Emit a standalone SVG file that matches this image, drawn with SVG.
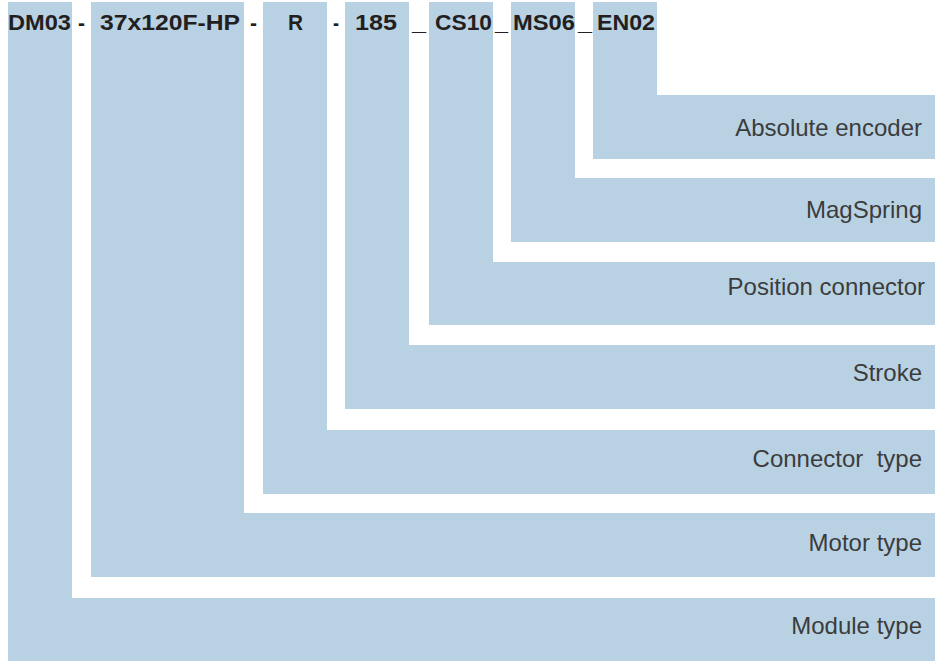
<svg xmlns="http://www.w3.org/2000/svg" width="935" height="661" viewBox="0 0 935 661">
  <style>
    .blk { fill: #b8d2e4; }
    .code { font-family: "Liberation Sans", Arial, sans-serif; font-weight: bold; font-size: 22px; fill: #231f20; }
    .lbl { font-family: "Liberation Sans", Arial, sans-serif; font-size: 24px; fill: #3c3c3c; text-anchor: end; white-space: pre; }
  </style>
  <rect width="935" height="661" fill="#ffffff"/>
  <g id="module-type">
    <path class="blk" d="M8,2 H72 V598 H935 V661 H8 Z"/>
    <text class="code" x="8" y="30" textLength="63" lengthAdjust="spacingAndGlyphs">DM03</text>
    <text class="lbl" x="922" y="634">Module type</text>
  </g>
  <g id="motor-type">
    <path class="blk" d="M91,2 H244 V513 H935 V577 H91 Z"/>
    <text class="code" x="100" y="30" textLength="140" lengthAdjust="spacingAndGlyphs">37x120F-HP</text>
    <text class="lbl" x="922" y="551">Motor type</text>
  </g>
  <g id="connector-type">
    <path class="blk" d="M263,2 H327 V430 H935 V494 H263 Z"/>
    <text class="code" x="288" y="30" textLength="15" lengthAdjust="spacingAndGlyphs">R</text>
    <text class="lbl" x="922" y="467">Connector  type</text>
  </g>
  <g id="stroke">
    <path class="blk" d="M345,2 H409 V345 H935 V409 H345 Z"/>
    <text class="code" x="355" y="30" textLength="42" lengthAdjust="spacingAndGlyphs">185</text>
    <text class="lbl" x="922" y="381">Stroke</text>
  </g>
  <g id="position-connector">
    <path class="blk" d="M429,2 H493 V262 H935 V325 H429 Z"/>
    <text class="code" x="435" y="30" textLength="57" lengthAdjust="spacingAndGlyphs">CS10</text>
    <text class="lbl" x="925" y="295">Position connector</text>
  </g>
  <g id="magspring">
    <path class="blk" d="M511,2 H575 V178 H935 V242 H511 Z"/>
    <text class="code" x="513" y="30" textLength="62" lengthAdjust="spacingAndGlyphs">MS06</text>
    <text class="lbl" x="922" y="218">MagSpring</text>
  </g>
  <g id="absolute-encoder">
    <path class="blk" d="M593,2 H657 V95 H935 V159 H593 Z"/>
    <text class="code" x="597" y="30" textLength="58" lengthAdjust="spacingAndGlyphs">EN02</text>
    <text class="lbl" x="922" y="136">Absolute encoder</text>
  </g>
  <g id="separators" class="code">
    <text x="78" y="30" textLength="7" lengthAdjust="spacingAndGlyphs">-</text>
    <text x="250" y="30" textLength="7" lengthAdjust="spacingAndGlyphs">-</text>
    <text x="333" y="30" textLength="6" lengthAdjust="spacingAndGlyphs">-</text>
    <text x="412" y="30" textLength="14" lengthAdjust="spacingAndGlyphs">_</text>
    <text x="495" y="30" textLength="13" lengthAdjust="spacingAndGlyphs">_</text>
    <text x="578" y="30" textLength="14" lengthAdjust="spacingAndGlyphs">_</text>
  </g>
  <g id="connectors"/>
</svg>
